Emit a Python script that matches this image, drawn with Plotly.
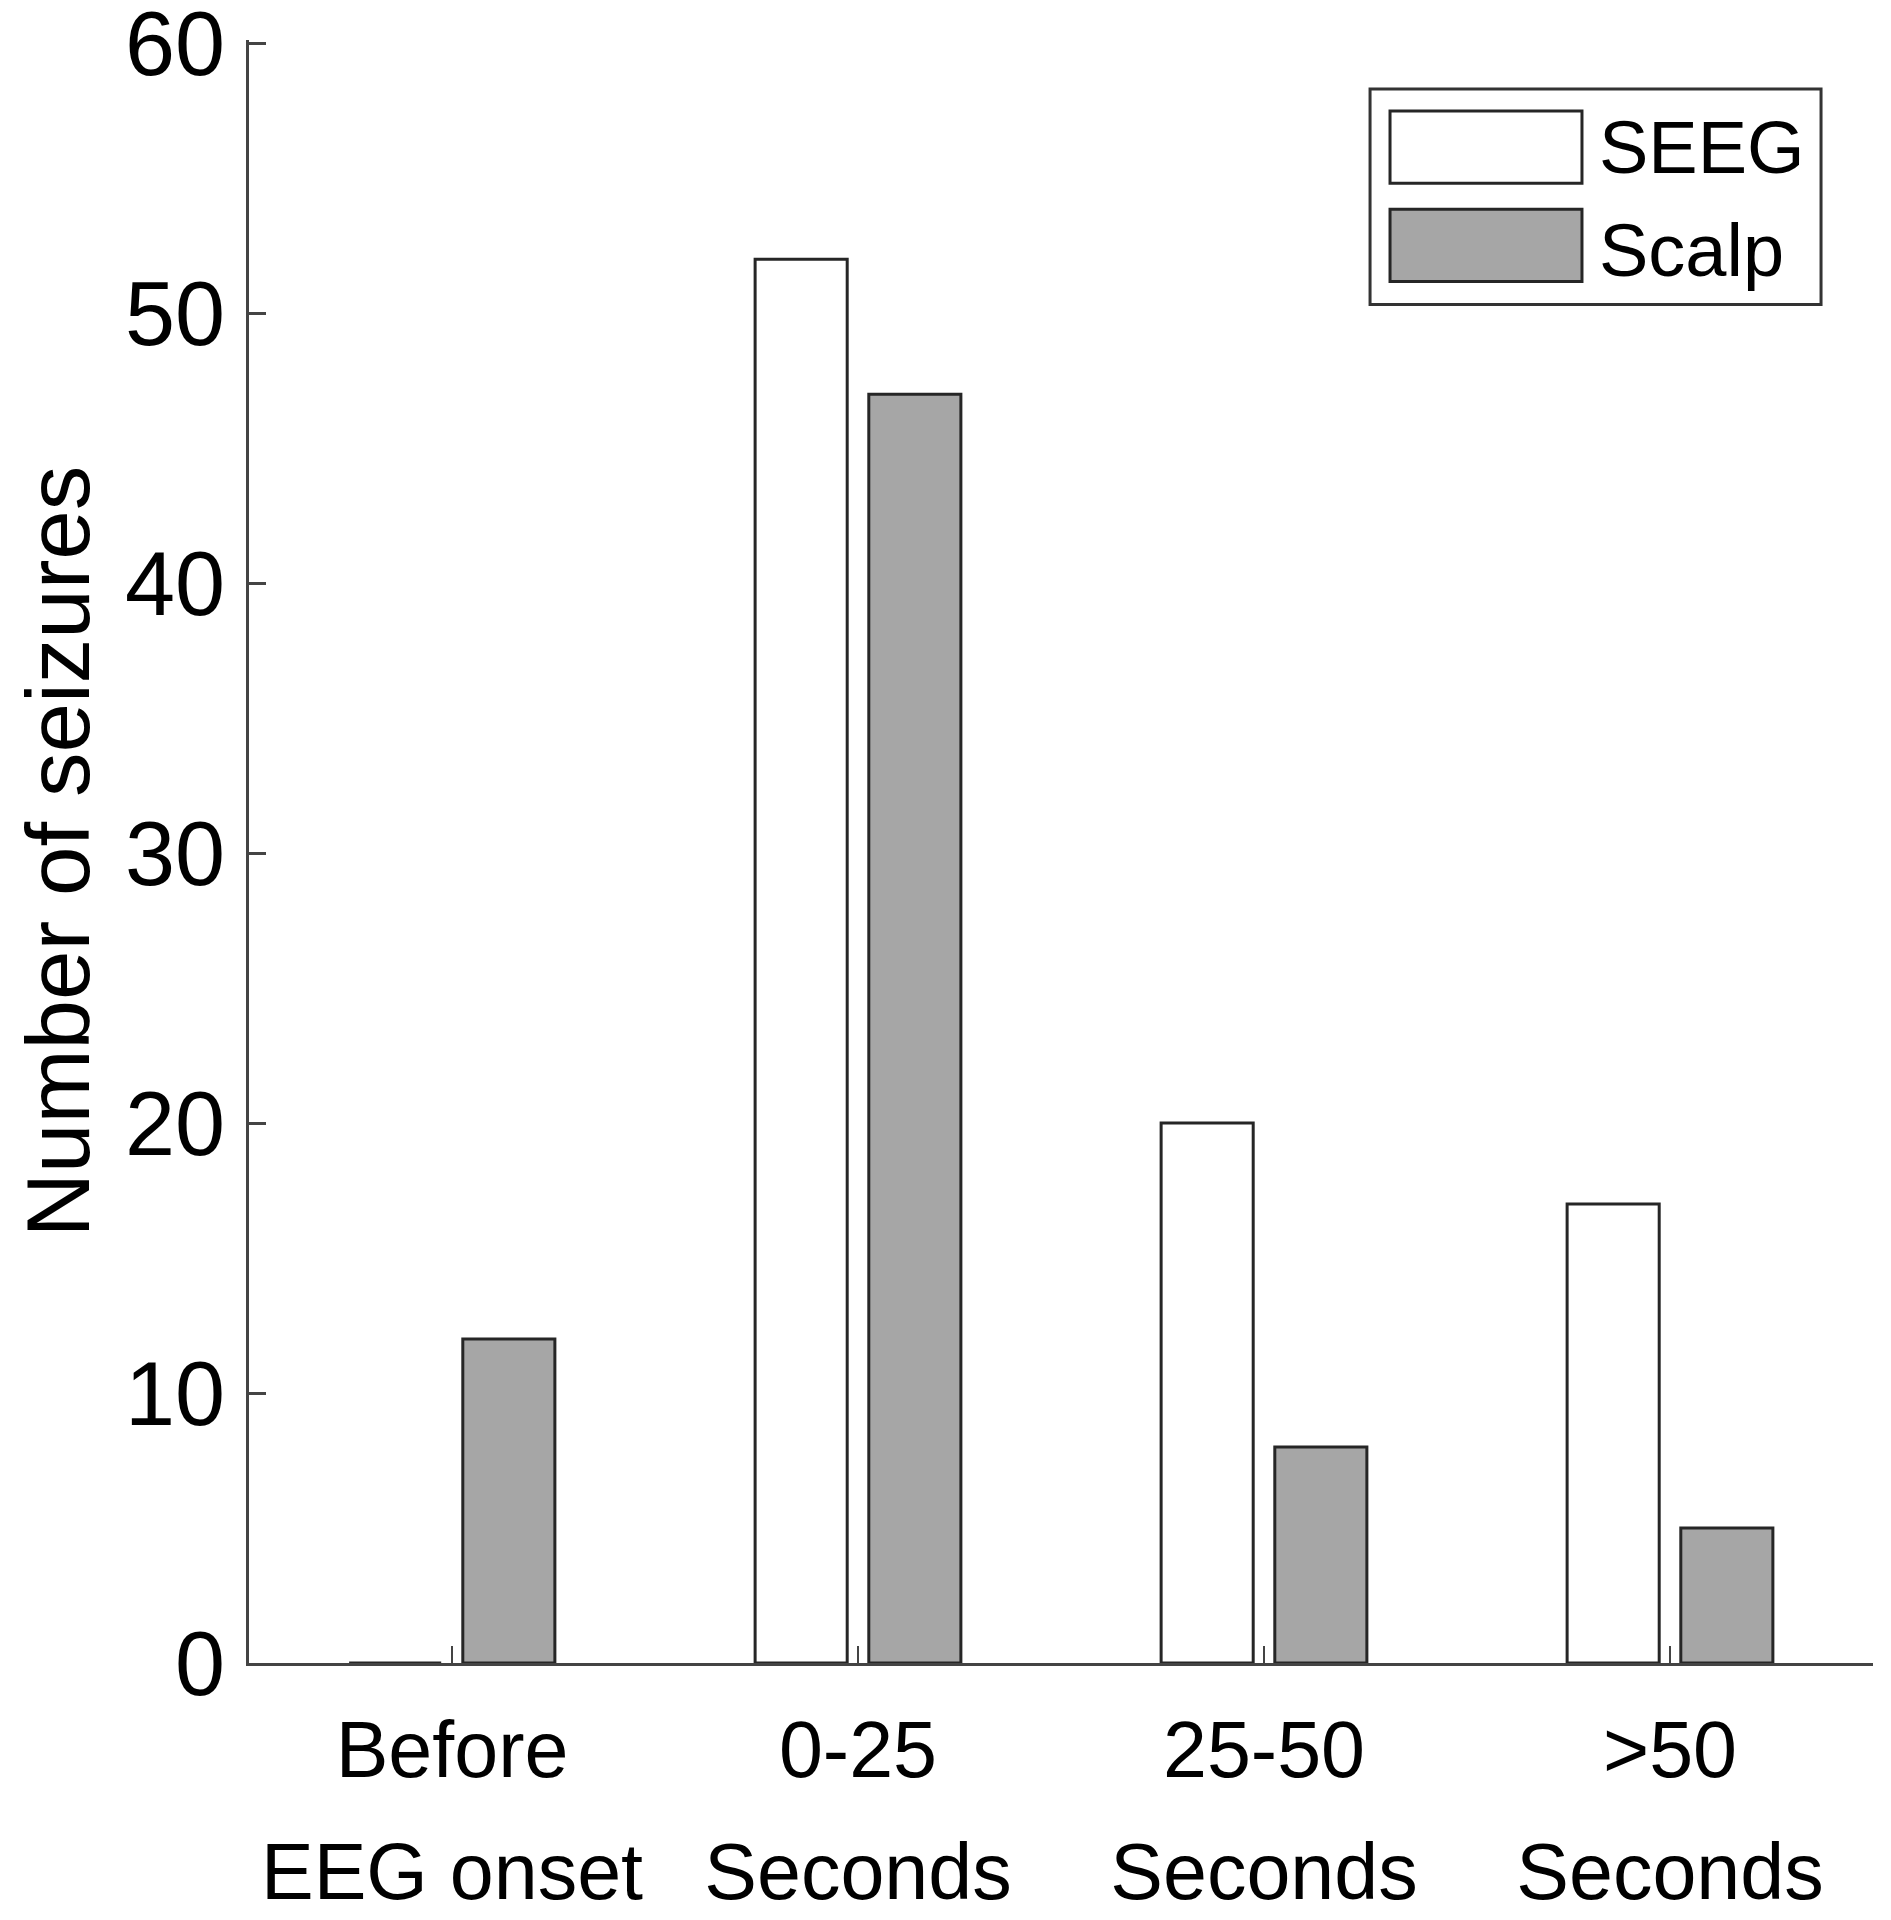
import plotly.graph_objects as go

# ---- data ----
categories = ["Before", "0-25", "25-50", ">50"]
second_line = ["EEG onset", "Seconds", "Seconds", "Seconds"]
seeg_values = [0, 52, 20, 17]
scalp_values = [12, 47, 8, 5]
y_ticks = [0, 10, 20, 30, 40, 50, 60]

FONT = "Liberation Sans, Arial, Helvetica, sans-serif"
EDGE = "#262626"
AXIS = "#444444"

fig = go.Figure()
fig.add_trace(go.Bar(x=categories, y=seeg_values, name="SEEG",
                     marker=dict(color="white", line=dict(color=EDGE, width=3)),
                     showlegend=False))
fig.add_trace(go.Bar(x=categories, y=scalp_values, name="Scalp",
                     marker=dict(color="#a6a6a6", line=dict(color=EDGE, width=3)),
                     showlegend=False))

# invisible trace that anchors the axis carrying the second tick-label line
fig.add_trace(go.Scatter(x=[0, 1, 2, 3], y=[0, 0, 0, 0], xaxis="x2", yaxis="y",
                         mode="markers", marker=dict(opacity=0), hoverinfo="skip",
                         showlegend=False))

# the page body adds an 8px margin around the figure, so the figure is 16px smaller
fig.update_layout(
    width=1875, height=1904,
    margin=dict(l=241, r=10, t=32, b=249),
    paper_bgcolor="white", plot_bgcolor="white",
    barmode="group", bargap=0.44, bargroupgap=0.19,
    font=dict(family=FONT, color="black"),
    xaxis=dict(
        type="category", categoryorder="array", categoryarray=categories,
        range=[-0.5, 3.5], automargin=False,
        showline=True, linecolor=AXIS, linewidth=3,
        ticks="inside", ticklen=17, tickwidth=2, tickcolor=AXIS,
        tickfont=dict(size=79, family=FONT, color="black"),
        ticklabelstandoff=16,
        showgrid=False, zeroline=False,
    ),
    xaxis2=dict(
        overlaying="x", anchor="y", side="bottom",
        range=[-0.5, 3.5], tickmode="array", automargin=False,
        tickvals=[0, 1, 2, 3], ticktext=second_line,
        ticks="", showline=False, showgrid=False, zeroline=False,
        tickfont=dict(size=79, family=FONT, color="black"),
        ticklabelstandoff=156, ticklabeloverflow="allow",
    ),
    yaxis=dict(
        range=[0, 60.12], tickmode="array", tickvals=y_ticks, automargin=False,
        showline=True, linecolor=AXIS, linewidth=3,
        ticks="inside", ticklen=17, tickwidth=3, tickcolor=AXIS,
        tickfont=dict(size=90, family=FONT, color="black"),
        ticklabelstandoff=3, ticklabeloverflow="allow",
        showgrid=False, zeroline=False,
        title=dict(text="Number of seizures", font=dict(size=89, family=FONT, color="black"),
                   standoff=48),
    ),
)

# ---- legend drawn as box + swatches + text ----
fig.add_shape(type="rect", xref="paper", yref="paper", x0=0.6903, x1=0.9680, y0=0.8370, y1=0.9698,
              line=dict(color="#333333", width=3), fillcolor="white")
fig.add_shape(type="rect", xref="paper", yref="paper", x0=0.7026, x1=0.8208, y0=0.9117, y1=0.9562,
              line=dict(color=EDGE, width=3), fillcolor="white")
fig.add_shape(type="rect", xref="paper", yref="paper", x0=0.7026, x1=0.8208, y0=0.8512, y1=0.8957,
              line=dict(color=EDGE, width=3), fillcolor="#a6a6a6")
fig.add_annotation(xref="paper", yref="paper", x=0.8300, y=0.9340, text="SEEG", showarrow=False,
                   xanchor="left", yanchor="middle", font=dict(size=74, family=FONT, color="black"))
fig.add_annotation(xref="paper", yref="paper", x=0.8300, y=0.8700, text="Scalp", showarrow=False,
                   xanchor="left", yanchor="middle", font=dict(size=74, family=FONT, color="black"))

fig.write_html("out.html")
